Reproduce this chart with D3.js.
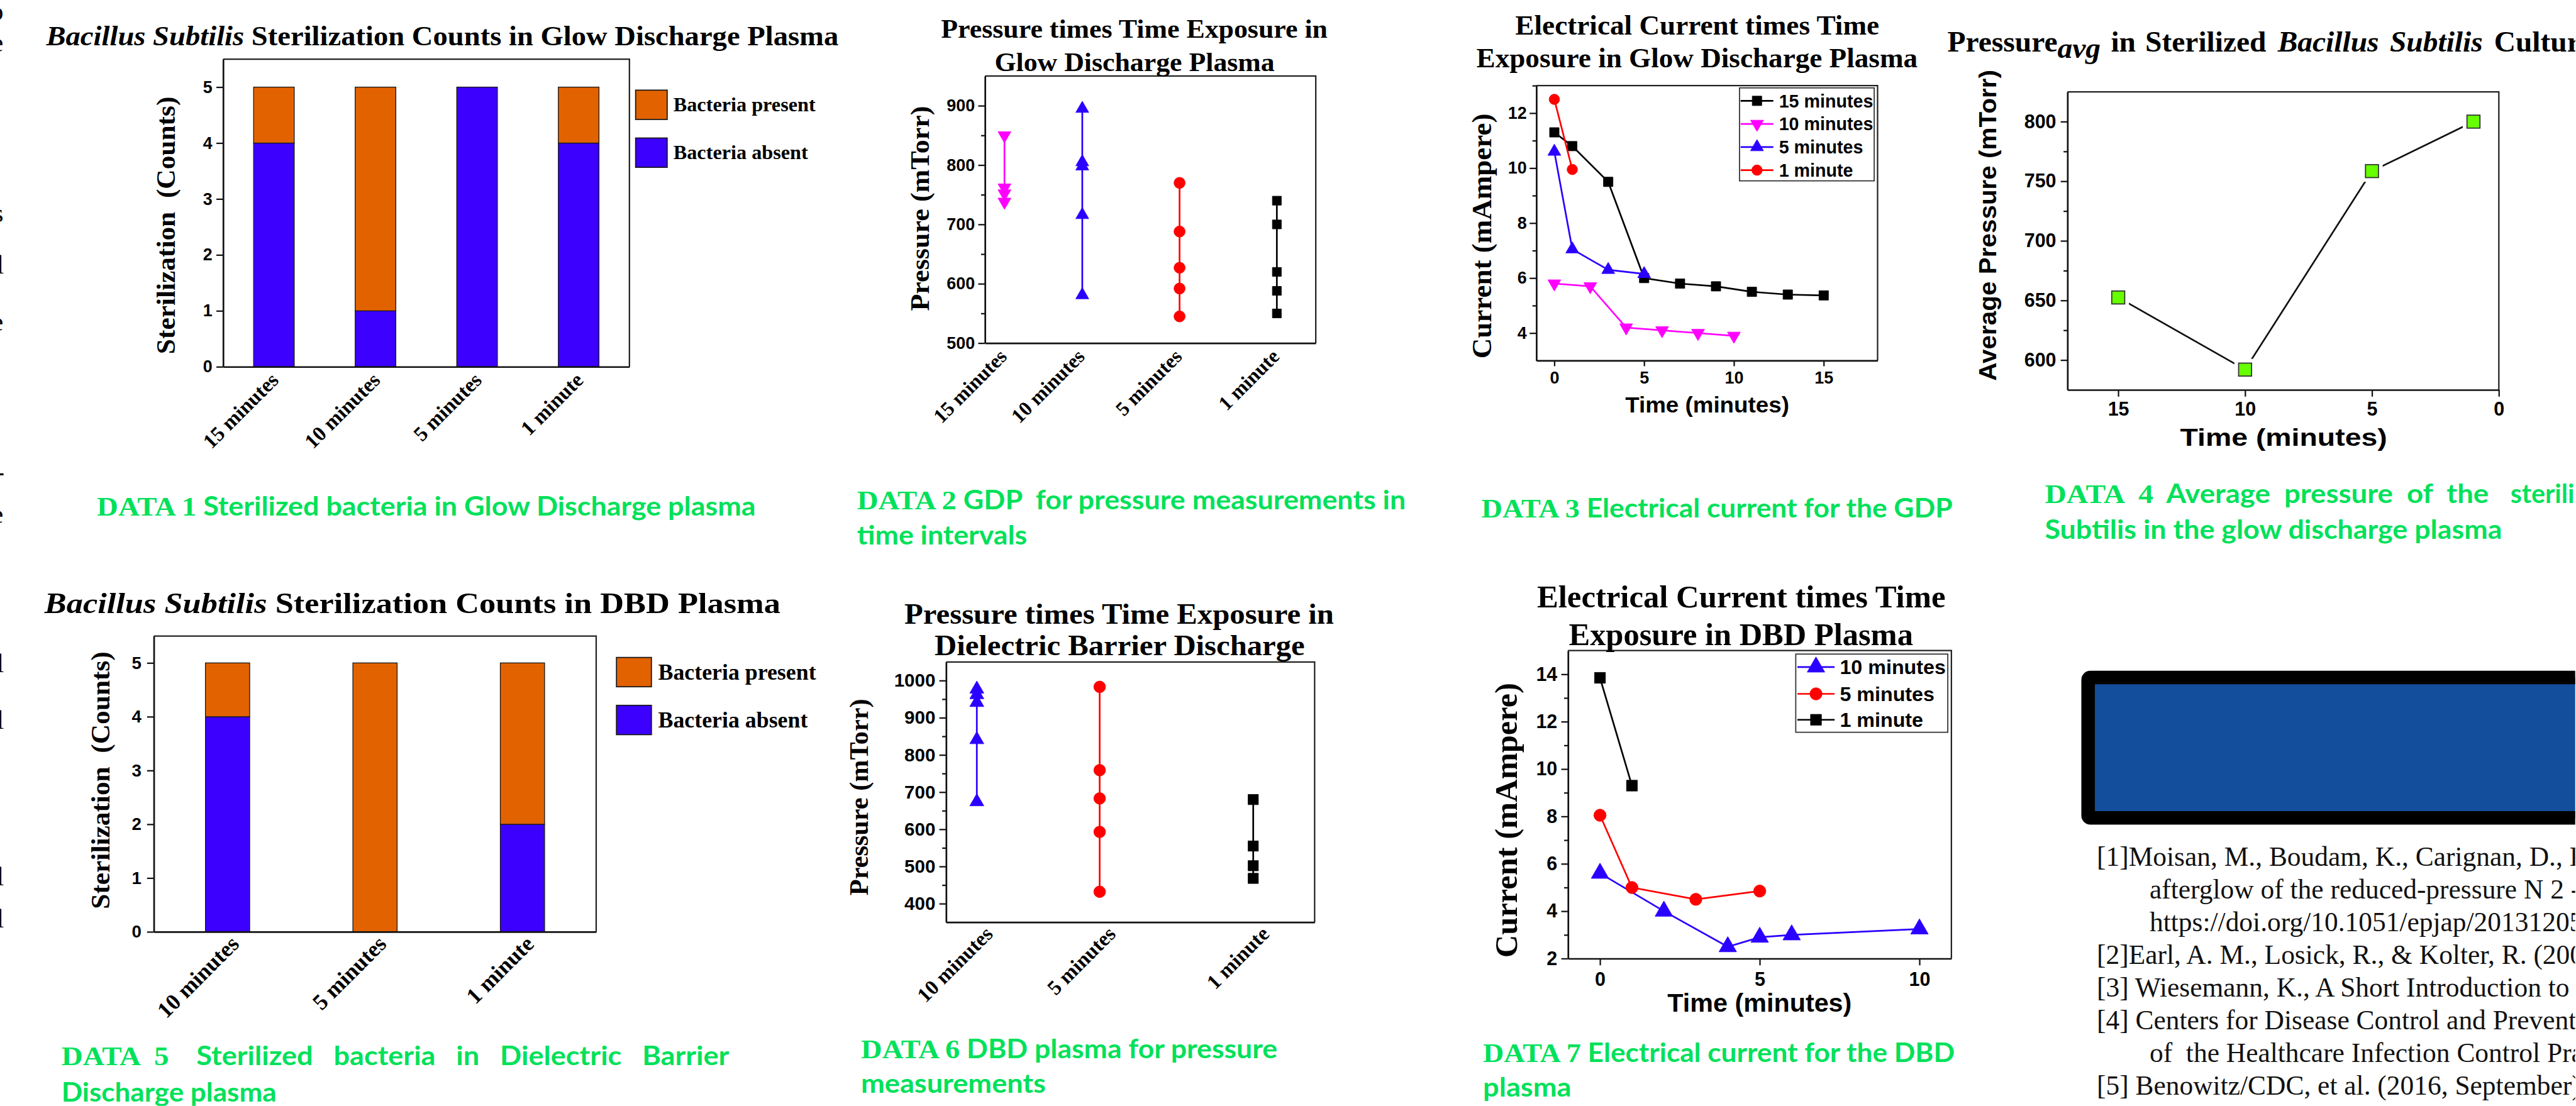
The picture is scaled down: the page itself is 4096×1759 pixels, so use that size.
<!DOCTYPE html>
<html>
<head>
<meta charset="utf-8">
<script src="https://cdn.jsdelivr.net/npm/d3@7/dist/d3.min.js"></script>
<style>
html,body{margin:0;padding:0;background:#fff;overflow:hidden;}
svg{display:block;}
text{white-space:pre;}
</style>
</head>
<body>
<svg id="chart" width="4096" height="1759"></svg>
<script>
// ===================== DATA =====================
// DATA 1 – Glow discharge plasma sterilization counts
const gdpCountCategories = ["15 minutes", "10 minutes", "5 minutes", "1 minute"];
const gdpBacteriaAbsent  = [4, 1, 5, 4];
const gdpBacteriaPresent = [1, 4, 0, 1];
const countTicks = [0, 1, 2, 3, 4, 5];
const legendLabels = ["Bacteria present", "Bacteria absent"];

// DATA 2 – Glow discharge plasma pressure per exposure time
const gdpPressureCategories = ["15 minutes", "10 minutes", "5 minutes", "1 minute"];
const gdpPressureCategoryX = [0.2, 1, 2, 3];
const gdpPressure15min = [850, 762, 752, 738];
const gdpPressure10min = [895, 805, 798, 716, 581];
const gdpPressure5min  = [770, 688, 627, 592, 545];
const gdpPressure1min  = [740, 700, 620, 588, 550];
const gdpPressureTicks = [500, 600, 700, 800, 900];
const gdpPressureMinorTicks = [550, 650, 750, 850];

// DATA 3 – Glow discharge plasma current vs time
const gdpCurrentSeriesNames = ["15 minutes", "10 minutes", "5 minutes", "1 minute"];
const gdpCurrent15Time = [0, 1, 3, 5, 7, 9, 11, 13, 15];
const gdpCurrent15     = [11.3, 10.8, 9.5, 6.0, 5.8, 5.7, 5.5, 5.4, 5.37];
const gdpCurrent10Time = [0, 2, 4, 6, 8, 10];
const gdpCurrent10     = [5.8, 5.7, 4.2, 4.1, 4.0, 3.9];
const gdpCurrent5Time  = [0, 1, 3, 5];
const gdpCurrent5      = [10.6, 7.05, 6.3, 6.15];
const gdpCurrent1Time  = [0, 1];
const gdpCurrent1      = [12.5, 9.95];
const gdpCurrentYTicks = [4, 6, 8, 10, 12];
const gdpCurrentYMinor = [5, 7, 9, 11, 13];
const gdpCurrentXTicks = [0, 5, 10, 15];

// DATA 4 – Average pressure
const avgPressureTime = [15, 10, 5, 1];
const avgPressure     = [652.5, 592, 758.5, 800];
const avgPressureYTicks = [600, 650, 700, 750, 800];
const avgPressureYMinor = [625, 675, 725, 775];
const avgPressureXTicks = [15, 10, 5, 0];

// DATA 5 – DBD plasma sterilization counts
const dbdCountCategories = ["10 minutes", "5 minutes", "1 minute"];
const dbdBacteriaAbsent  = [4, 0, 2];
const dbdBacteriaPresent = [1, 5, 3];

// DATA 6 – DBD pressure per exposure time
const dbdPressureCategories = ["10 minutes", "5 minutes", "1 minute"];
const dbdPressureCategoryX = [0.2, 1, 2];
const dbdPressure10min = [977, 962, 941, 841, 674];
const dbdPressure5min  = [983, 759, 683, 593, 432];
const dbdPressure1min  = [680, 555, 502, 468];
const dbdPressureTicks = [400, 500, 600, 700, 800, 900, 1000];
const dbdPressureMinorTicks = [450, 550, 650, 750, 850, 950];

// DATA 7 – DBD current vs time
const dbdCurrentSeriesNames = ["10 minutes", "5 minutes", "1 minute"];
const dbdCurrent10Time = [0, 2, 4, 5, 6, 10];
const dbdCurrent10     = [5.6, 4.0, 2.5, 2.9, 3.0, 3.25];
const dbdCurrent5Time  = [0, 1, 3, 5];
const dbdCurrent5      = [8.05, 5.0, 4.5, 4.85];
const dbdCurrent1Time  = [0, 1];
const dbdCurrent1      = [13.85, 9.3];
const dbdCurrentYTicks = [2, 4, 6, 8, 10, 12, 14];
const dbdCurrentYMinor = [3, 5, 7, 9, 11, 13];
const dbdCurrentXTicks = [0, 5, 10];

// References text
const references = [
  ["[1]Moisan, M., Boudam, K., Carignan, D., Kéroack, D., Levif, P., Barbeau, J., … Vallade, J. (2013). Sterilization/disinfection of medical devices using plasma: the flowing", 0],
  ["afterglow of the reduced-pressure N 2 -O 2 discharge as the inactivating medium. The European Physical Journal Applied Physics, 63(1), 10001.", 1],
  ["https://doi.org/10.1051/epjap/2013120510", 1],
  ["[2]Earl, A. M., Losick, R., & Kolter, R. (2008). Ecology and genomics of Bacillus subtilis. Trends in Microbiology, 16(6), 269.", 0],
  ["[3] Wiesemann, K., A Short Introduction to Plasma Physics.", 0],
  ["[4] Centers for Disease Control and Prevention. (2008). Guideline for Disinfection and Sterilization in Healthcare Facilities. Recommendations", 0],
  ["of  the Healthcare Infection Control Practices Advisory Committee (HICPAC).", 1],
  ["[5] Benowitz/CDC, et al. (2016, September). Bacillus subtilis.", 0]
];

// ===================== STYLE =====================
const SERIF = "'Liberation Serif','Times New Roman',Times,serif";
const SANS = "'Liberation Sans',Arial,Helvetica,sans-serif";
const CAPF = "Lato,'Open Sans',sans-serif";
const GREEN = "#00E15A";
const BAR_ORANGE = "#E36200", BAR_BLUE = "#3C00FF";
const BLUE = "#2A00FF", MAGENTA = "#FF00FF", RED = "#FF0000", BLACK = "#000000";
const INK = "#111";

const S = 0.896;
const svg = d3.select("#chart");
svg.append("defs").append("clipPath").attr("id", "page")
  .append("rect").attr("width", 4570).attr("height", 1963);
const root = svg.append("g").attr("transform", `scale(${S})`).attr("clip-path", "url(#page)");
root.append("rect").attr("width", 4570).attr("height", 1963).attr("fill", "#fff");

// ===================== HELPERS =====================
function rich(g, x, y, parts, o = {}) {
  const t = g.append("text").attr("x", x).attr("y", y)
    .attr("font-family", o.family || SERIF)
    .attr("font-size", o.size || 48)
    .attr("font-weight", o.weight || "bold")
    .attr("fill", o.fill || "#000")
    .attr("text-anchor", o.anchor || "start");
  if (o.len) t.attr("textLength", o.len).attr("lengthAdjust", "spacingAndGlyphs");
  if (o.rotate) t.attr("transform", `rotate(${o.rotate},${x},${y})`);
  if (o.dy) t.attr("dy", o.dy);
  (typeof parts === "string" ? [{ t: parts }] : parts).forEach(p => {
    const s = t.append("tspan").text(p.t);
    if (p.italic) s.attr("font-style", "italic");
    if (p.family) s.attr("font-family", p.family);
    if (p.size) s.attr("font-size", p.size);
    if (p.weight) s.attr("font-weight", p.weight);
    if (p.dy != null) s.attr("dy", p.dy);
    if (p.x != null) s.attr("x", p.x);
  });
  return t;
}

function styleAxis(a, fs, family) {
  a.select(".domain").attr("stroke", INK).attr("stroke-width", 3);
  a.selectAll(".tick line").attr("stroke", INK).attr("stroke-width", 2.5);
  a.selectAll(".tick text").attr("font-family", family || SANS).attr("font-weight", "bold")
    .attr("font-size", fs).attr("fill", "#000");
}

function yAxis(g, y, x0, major, minor, fs, pad) {
  const a = g.append("g").attr("transform", `translate(${x0},0)`)
    .call(d3.axisLeft(y).tickValues(major).tickSize(12).tickSizeOuter(0).tickPadding(pad).tickFormat(d3.format("d")));
  styleAxis(a, fs);
  if (minor && minor.length) {
    const m = g.append("g").attr("transform", `translate(${x0},0)`)
      .call(d3.axisLeft(y).tickValues(minor).tickSize(7).tickSizeOuter(0).tickFormat(""));
    m.select(".domain").remove();
    m.selectAll(".tick line").attr("stroke", INK).attr("stroke-width", 2.5);
  }
  return a;
}

function xAxisNum(g, x, y0, ticks, fs, size, pad) {
  const a = g.append("g").attr("transform", `translate(0,${y0})`)
    .call(d3.axisBottom(x).tickValues(ticks).tickSize(size).tickSizeOuter(0).tickPadding(pad).tickFormat(d3.format("d")));
  styleAxis(a, fs);
  return a;
}

function frameLines(g, L) {
  g.append("path").attr("d", `M${L.x0},${L.y0}H${L.x1}V${L.y1}`)
    .attr("fill", "none").attr("stroke", "#222").attr("stroke-width", 2.5);
}

function rotatedCats(a, fs, dx, dy) {
  styleAxis(a, fs, SERIF);
  a.selectAll(".tick text").attr("text-anchor", "end").attr("x", 0).attr("y", 0).attr("dy", 0)
    .attr("transform", `translate(${dx},${dy}) rotate(-45)`);
}

function symPath(type, size) { return d3.symbol().type(type).size(size)(); }

function marker(g, cx, cy, s) {
  g.append("path").attr("d", symPath(s.type, s.size))
    .attr("transform", `translate(${cx},${cy})${s.down ? " rotate(180)" : ""}`)
    .attr("fill", s.color).attr("stroke", s.color).attr("stroke-width", 1);
}

function caption(g, x, y, lead, rest, len, o = {}) {
  const parts = [];
  if (lead) parts.push({ t: lead, family: SERIF, size: o.leadSize || 48 });
  if (rest) parts.push({ t: rest, family: CAPF, size: o.size || 46 });
  return rich(g, x, y, parts, { fill: GREEN, len: len, size: o.size || 46 });
}

// ===================== BAR CHARTS (DATA 1 & 5) =====================
function barChart(L, cats, absent, present) {
  const g = root.append("g");
  const x = d3.scalePoint().domain(cats).range([L.x0, L.x1]).padding(0.5);
  const y = d3.scaleLinear().domain([0, 5.5]).range([L.y1, L.y0]);
  const bw = x.step() * L.barFrac;
  frameLines(g, L);
  g.append("g").selectAll("rect").data(cats).join("rect")
    .attr("x", d => x(d) - bw / 2).attr("width", bw)
    .attr("y", (d, i) => y(absent[i])).attr("height", (d, i) => y(0) - y(absent[i]))
    .attr("fill", BAR_BLUE).attr("stroke", "#1a1a1a").attr("stroke-width", 1.5);
  g.append("g").selectAll("rect").data(cats).join("rect")
    .attr("x", d => x(d) - bw / 2).attr("width", bw)
    .attr("y", (d, i) => y(absent[i] + present[i]))
    .attr("height", (d, i) => y(absent[i]) - y(absent[i] + present[i]))
    .attr("fill", BAR_ORANGE).attr("stroke", "#1a1a1a").attr("stroke-width", 1.5);
  yAxis(g, y, L.x0, countTicks, [], L.tickFs, L.tickPad);
  const xa = g.append("g").attr("transform", `translate(0,${L.y1})`)
    .call(d3.axisBottom(x).tickSize(0).tickSizeOuter(0));
  rotatedCats(xa, L.catFs, L.catDx, L.catDy);
  // legend
  const colors = [BAR_ORANGE, BAR_BLUE];
  legendLabels.forEach((lab, i) => {
    g.append("rect").attr("x", L.legX).attr("y", L.legY[i]).attr("width", L.legW).attr("height", L.legH)
      .attr("fill", colors[i]).attr("stroke", "#1a1a1a").attr("stroke-width", 2);
    rich(g, L.legTx, L.legY[i] + L.legH / 2 + L.legFs * 0.33, lab, { size: L.legFs });
  });
  rich(g, L.yTitle[0], L.yTitle[1], "Sterilization  (Counts)",
    { size: 48, anchor: "middle", rotate: -90, dy: "0.35em", len: L.yTitle[2] });
}

barChart({ x0: 396, x1: 1117, y0: 105, y1: 651, barFrac: 0.4, tickFs: 30, tickPad: 7,
  catFs: 37, catDx: 10, catDy: 26, legX: 1128, legY: [160, 245], legW: 56, legH: 52, legTx: 1195, legFs: 36,
  yTitle: [293, 400, 457] }, gdpCountCategories, gdpBacteriaAbsent, gdpBacteriaPresent);

barChart({ x0: 273, x1: 1058, y0: 1129, y1: 1654, barFrac: 0.3, tickFs: 31, tickPad: 10,
  catFs: 40, catDx: 22, catDy: 24, legX: 1094, legY: [1167, 1252], legW: 62, legH: 52, legTx: 1168, legFs: 40,
  yTitle: [177, 1385, 457] }, dbdCountCategories, dbdBacteriaAbsent, dbdBacteriaPresent);

// titles for bar charts
rich(root, 82, 80, [{ t: "Bacillus Subtilis", italic: true }, { t: " Sterilization Counts in Glow Discharge Plasma" }], { size: 50, len: 1406 });
rich(root, 79, 1088, [{ t: "Bacillus Subtilis", italic: true }, { t: " Sterilization Counts in DBD Plasma" }], { size: 52, len: 1306 });

// ===================== POINT CHARTS (DATA 2 & 6) =====================
function pressureChart(L, cats, catX, series, ticks, minor) {
  const g = root.append("g");
  const x = d3.scaleLinear().domain(L.xd).range([L.x0, L.x1]);
  const y = d3.scaleLinear().domain(L.yd).range([L.y1, L.y0]);
  frameLines(g, L);
  series.forEach((s, si) => {
    const cx = x(catX[si]);
    g.append("path").datum(s.vals)
      .attr("d", d3.line().x(() => cx).y(v => y(v)))
      .attr("fill", "none").attr("stroke", s.color).attr("stroke-width", 3);
    s.vals.forEach(v => marker(g, cx, y(v), s));
  });
  yAxis(g, y, L.x0, ticks, minor, L.tickFs, L.tickPad);
  const xa = g.append("g").attr("transform", `translate(0,${L.y1})`)
    .call(d3.axisBottom(x).tickValues(catX).tickFormat((d, i) => cats[i]).tickSize(0).tickSizeOuter(0));
  rotatedCats(xa, L.catFs, L.catDx, L.catDy);
  rich(g, L.yTitle[0], L.yTitle[1], "Pressure (mTorr)",
    { size: L.yTitle[3], anchor: "middle", rotate: -90, dy: "0.35em", len: L.yTitle[2] });
}

pressureChart({ x0: 1748, x1: 2335, y0: 135, y1: 609, xd: [0, 3.4], yd: [500, 950], tickFs: 30, tickPad: 6,
  catFs: 36, catDx: 6, catDy: 26, yTitle: [1632, 370, 364, 48] },
  gdpPressureCategories, gdpPressureCategoryX, [
    { vals: gdpPressure15min, color: MAGENTA, type: d3.symbolTriangle, down: true, size: 230 },
    { vals: gdpPressure10min, color: BLUE, type: d3.symbolTriangle, size: 230 },
    { vals: gdpPressure5min, color: RED, type: d3.symbolCircle, size: 310 },
    { vals: gdpPressure1min, color: BLACK, type: d3.symbolSquare, size: 250 }
  ], gdpPressureTicks, gdpPressureMinorTicks);

pressureChart({ x0: 1679, x1: 2333, y0: 1175, y1: 1637, xd: [0, 2.4], yd: [350, 1050], tickFs: 33, tickPad: 7,
  catFs: 37, catDx: 30, catDy: 23, yTitle: [1524.5, 1415, 349, 46] },
  dbdPressureCategories, dbdPressureCategoryX, [
    { vals: dbdPressure10min, color: BLUE, type: d3.symbolTriangle, size: 270 },
    { vals: dbdPressure5min, color: RED, type: d3.symbolCircle, size: 340 },
    { vals: dbdPressure1min, color: BLACK, type: d3.symbolSquare, size: 330 }
  ], dbdPressureTicks, dbdPressureMinorTicks);

rich(root, 1670, 67, "Pressure times Time Exposure in", { size: 48, len: 686 });
rich(root, 1765, 126, "Glow Discharge Plasma", { size: 48, len: 497 });
rich(root, 1605, 1107.5, "Pressure times Time Exposure in", { size: 52, len: 762 });
rich(root, 1658.5, 1163, "Dielectric Barrier Discharge", { size: 52, len: 657 });

// ===================== LINE CHARTS (DATA 3 & 7) =====================
function currentChart(L, series, yTicks, yMinor, xTicks) {
  const g = root.append("g");
  const x = d3.scaleLinear().domain(L.xd).range([L.x0, L.x1]);
  const y = d3.scaleLinear().domain(L.yd).range([L.y1, L.y0]);
  frameLines(g, L);
  series.forEach(s => {
    const pts = s.t.map((t, i) => [t, s.v[i]]);
    g.append("path").datum(pts)
      .attr("d", d3.line().x(d => x(d[0])).y(d => y(d[1])))
      .attr("fill", "none").attr("stroke", s.color).attr("stroke-width", 3);
    pts.forEach(d => marker(g, x(d[0]), y(d[1]), s));
  });
  yAxis(g, y, L.x0, yTicks, yMinor, L.tickFs, L.tickPad);
  xAxisNum(g, x, L.y1, xTicks, L.tickFs, L.xTickSize, L.xTickPad);
  // legend
  const lg = g.append("g");
  lg.append("rect").attr("x", L.leg.x0).attr("y", L.leg.y0)
    .attr("width", L.leg.x1 - L.leg.x0).attr("height", L.leg.y1 - L.leg.y0)
    .attr("fill", "#fff").attr("stroke", "#333").attr("stroke-width", 2);
  series.forEach((s, i) => {
    const ry = L.leg.rows[i];
    lg.append("line").attr("x1", L.leg.lx0).attr("x2", L.leg.lx1).attr("y1", ry).attr("y2", ry)
      .attr("stroke", s.color).attr("stroke-width", 3);
    marker(lg, (L.leg.lx0 + L.leg.lx1) / 2, ry, s);
    rich(lg, L.leg.tx, ry + L.leg.fs * 0.36, s.name, { family: SANS, size: L.leg.fs });
  });
  rich(g, L.yTitle[0], L.yTitle[1], "Current (mAmpere)",
    { size: L.yTitle[3], anchor: "middle", rotate: -90, dy: "0.35em", len: L.yTitle[2] });
  rich(g, L.xTitle[0], L.xTitle[1], "Time (minutes)", { family: SANS, size: L.xTitle[3], anchor: "middle", len: L.xTitle[2] });
}

currentChart({ x0: 2726.5, x1: 3332, y0: 152, y1: 640, xd: [-1, 18], yd: [3, 13], tickFs: 30, tickPad: 5,
  xTickSize: 10, xTickPad: 10,
  leg: { x0: 3087, x1: 3326, y0: 156, y1: 321, rows: [179, 220, 261, 302], lx0: 3089, lx1: 3147, tx: 3157, fs: 32 },
  yTitle: [2629, 419, 435, 50], xTitle: [3029.6, 732, 291, 40] },
  [
    { name: gdpCurrentSeriesNames[0], t: gdpCurrent15Time, v: gdpCurrent15, color: BLACK, type: d3.symbolSquare, size: 280 },
    { name: gdpCurrentSeriesNames[1], t: gdpCurrent10Time, v: gdpCurrent10, color: MAGENTA, type: d3.symbolTriangle, down: true, size: 230 },
    { name: gdpCurrentSeriesNames[2], t: gdpCurrent5Time, v: gdpCurrent5, color: BLUE, type: d3.symbolTriangle, size: 230 },
    { name: gdpCurrentSeriesNames[3], t: gdpCurrent1Time, v: gdpCurrent1, color: RED, type: d3.symbolCircle, size: 270 }
  ], gdpCurrentYTicks, gdpCurrentYMinor, gdpCurrentXTicks);

currentChart({ x0: 2782.7, x1: 3463, y0: 1154.8, y1: 1701.5, xd: [-1, 11], yd: [2, 15], tickFs: 34, tickPad: 7,
  xTickSize: 12, xTickPad: 12,
  leg: { x0: 3186.8, x1: 3456.6, y0: 1161, y1: 1299.8, rows: [1184, 1231.6, 1277.6], lx0: 3189.7, lx1: 3255.7, tx: 3265, fs: 36 },
  yTitle: [2672, 1456, 488, 56], xTitle: [3122.6, 1795.5, 327, 46] },
  [
    { name: dbdCurrentSeriesNames[0], t: dbdCurrent10Time, v: dbdCurrent10, color: BLUE, type: d3.symbolTriangle, size: 420 },
    { name: dbdCurrentSeriesNames[1], t: dbdCurrent5Time, v: dbdCurrent5, color: RED, type: d3.symbolCircle, size: 370 },
    { name: dbdCurrentSeriesNames[2], t: dbdCurrent1Time, v: dbdCurrent1, color: BLACK, type: d3.symbolSquare, size: 370 }
  ], dbdCurrentYTicks, dbdCurrentYMinor, dbdCurrentXTicks);

rich(root, 2689, 61, "Electrical Current times Time", { size: 50, len: 646 });
rich(root, 2620, 119, "Exposure in Glow Discharge Plasma", { size: 50, len: 783 });
rich(root, 2727.6, 1078.6, "Electrical Current times Time", { size: 56, len: 725 });
rich(root, 2784, 1145, "Exposure in DBD Plasma", { size: 56, len: 611 });

// ===================== AVERAGE PRESSURE (DATA 4) =====================
(function () {
  const L = { x0: 3669, x1: 4434.5, y0: 163, y1: 692 };
  const g = root.append("g");
  const x = d3.scaleLinear().domain([17, 0]).range([L.x0, L.x1]);
  const y = d3.scaleLinear().domain([575, 825]).range([L.y1, L.y0]);
  frameLines(g, L);
  const pts = avgPressureTime.map((t, i) => [t, avgPressure[i]]);
  g.append("path").datum(pts).attr("d", d3.line().x(d => x(d[0])).y(d => y(d[1])))
    .attr("fill", "none").attr("stroke", "#111").attr("stroke-width", 3);
  g.selectAll(".halo").data(pts).join("rect")
    .attr("x", d => x(d[0]) - 19).attr("y", d => y(d[1]) - 19).attr("width", 38).attr("height", 38).attr("fill", "#fff");
  g.selectAll(".pt").data(pts).join("rect")
    .attr("x", d => x(d[0]) - 11.5).attr("y", d => y(d[1]) - 11.5).attr("width", 23).attr("height", 23)
    .attr("fill", "#66FF00").attr("stroke", "#333").attr("stroke-width", 2);
  yAxis(g, y, L.x0, avgPressureYTicks, avgPressureYMinor, 34, 8);
  xAxisNum(g, x, L.y1, avgPressureXTicks, 34, 12, 10);
  rich(g, 3526.5, 400, "Average Pressure (mTorr)", { family: SANS, size: 44, anchor: "middle", rotate: -90, dy: "0.35em", len: 552 });
  rich(g, 4052.6, 791, "Time (minutes)", { family: SANS, size: 44, anchor: "middle", len: 367.5 });
  rich(root, 3456, 91, [
    { t: "Pressure" },
    { t: "avg", italic: true, dy: 12 },
    { t: "in", x: 3746, dy: -12 },
    { t: "Sterilized", x: 3807 },
    { t: "Bacillus", italic: true, x: 4042 },
    { t: "Subtilis", italic: true, x: 4241 },
    { t: "Culture", x: 4426 }
  ], { size: 53 });
})();

// ===================== CAPTIONS =====================
caption(root, 172, 915, "DATA 1", " Sterilized bacteria in Glow Discharge plasma", 1169);
caption(root, 1521, 904, "DATA 2", " GDP  for pressure measurements in", 973.7);
caption(root, 1521, 966, "", "time intervals", 301.7);
caption(root, 2629, 918, "DATA 3", " Electrical current for the GDP", 836);
caption(root, 3628.8, 893, "DATA  4", "  Average  pressure  of  the", 787.7);
caption(root, 4455, 893, "", "sterilized  Bacillus");
caption(root, 3628.8, 956.6, "", "Subtilis in the glow discharge plasma", 811.5);
caption(root, 109, 1890.7, "DATA  5", "    Sterilized   bacteria   in   Dielectric   Barrier", 1185);
caption(root, 109, 1955, "", "Discharge plasma", 381.7);
caption(root, 1528, 1878.4, "DATA 6", " DBD plasma for pressure", 738.7);
caption(root, 1528, 1939.8, "", "measurements", 328);
caption(root, 2631.8, 1884.5, "DATA 7", " Electrical current for the DBD", 837);
caption(root, 2631.8, 1946, "", "plasma", 156.7);

// ===================== BLUE BOX + REFERENCES =====================
root.append("rect").attr("x", 3705.6).attr("y", 1202.6).attr("width", 1100).attr("height", 249)
  .attr("rx", 4).attr("fill", "#124E9B").attr("stroke", "#000").attr("stroke-width", 24);
references.forEach((r, i) => {
  rich(root, r[1] ? 3814.7 : 3721, 1537 + i * 58, r[0], { weight: "normal", size: 48.5, fill: "#111" });
});

// ===================== LEFT-EDGE TEXT FRAGMENTS =====================
[["o", 25, 6], ["e", 81, 6], ["s", 383, 6], ["l", 475, 7], ["e", 576, 6], ["-", 842, 8],
 ["e", 918, 6], ["l", 1182, 7], ["l", 1283, 7], ["l", 1560, 7], ["l", 1635, 7]].forEach(f => {
  rich(root, f[2], f[1] + 11, f[0], { weight: "normal", size: 48, anchor: "end" });
});
</script>
</body>
</html>
